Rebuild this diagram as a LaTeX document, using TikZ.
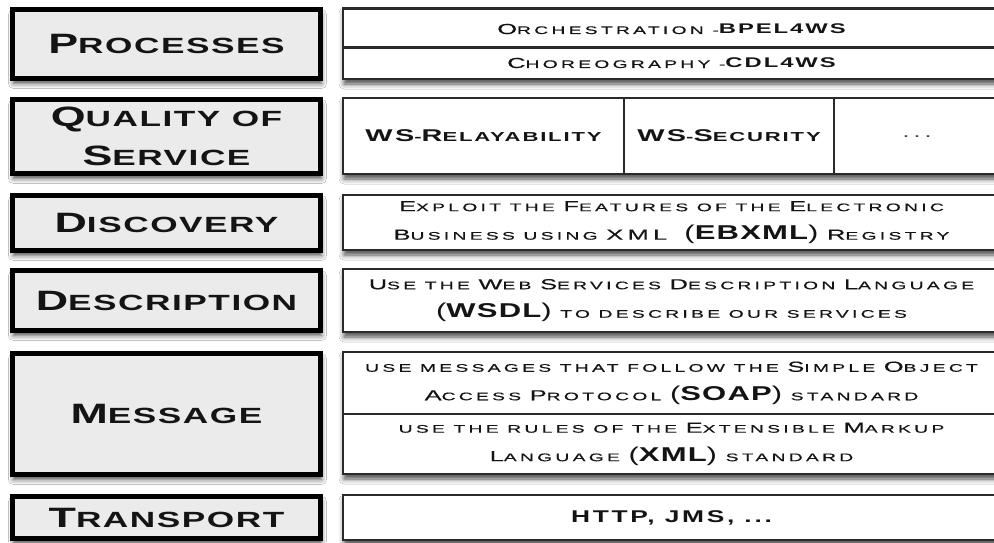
\documentclass[tikz,border=0pt]{standalone}
\usepackage{fontspec}
\usetikzlibrary{shadows.blur}

% Faces: wide, tracked caps in the style of an engraved gothic
\newfontfamily\lblfont[FakeStretch=1.6,LetterSpace=7]{Liberation Sans}
\newfontfamily\cpl[FakeStretch=1.75,LetterSpace=30,FakeBold=0.4]{Liberation Sans}
\newfontfamily\cpb[FakeStretch=1.7,LetterSpace=14]{Liberation Sans}
\newfontfamily\hvb[FakeStretch=1.55,LetterSpace=6]{Liberation Sans}
\newfontfamily\hvw[FakeStretch=1.55,LetterSpace=16]{Liberation Sans}

% Large capitals inside small-cap lines
\newcommand\lcap[1]{{\fontsize{28}{28}\selectfont #1}}
\newcommand\rcap[1]{{\fontsize{14.5}{14.5}\selectfont #1}}
\newcommand\bcap[1]{{\fontsize{17}{17}\selectfont #1}}
\newcommand\acro[1]{{\hvb\bfseries\fontsize{20}{20}\selectfont #1}}
\newcommand\paren[1]{{\hvb\fontsize{20}{20}\selectfont #1}}
\newcommand\ctag[1]{{\cpb\bfseries\fontsize{14}{14}\selectfont #1}}

\definecolor{boxgray}{HTML}{EBEBEB}
\definecolor{edge}{HTML}{2A2A2A}
\definecolor{ink}{HTML}{141414}

\tikzset{
  softshadow/.style={blur shadow={shadow xshift=1pt, shadow yshift=-5pt,
      shadow blur radius=5pt, shadow opacity=70}},
  layer/.style={draw=black, line width=5pt, fill=boxgray, softshadow,
      text=ink, align=center, inner sep=0pt, minimum width=308pt,
      font=\lblfont\bfseries\fontsize{22}{39}\selectfont},
  frame/.style={draw=edge, line width=1.3pt, fill=white, softshadow,
      text=ink, align=center, inner sep=0pt, minimum width=657pt,
      font=\cpl\fontsize{11}{28.5}\selectfont},
  cell/.style={draw=edge, line width=1.3pt, text=ink, align=center,
      inner sep=0pt, font=\cpl\fontsize{11}{28.5}\selectfont},
  boldcell/.style={cell, font=\cpb\bfseries\fontsize{13}{13}\selectfont},
}

\begin{document}
\begin{tikzpicture}[x=1pt,y=-1pt]
\useasboundingbox (0,0) rectangle (994,542);
\fill[white] (0,0) rectangle (994,542);

% Layer names
\node[layer, minimum height=69pt]  (proc)  at (166.5,44)    {\lcap{P}ROCESSES};
\node[layer, minimum height=74pt]  (qos)   at (166.5,136.5) {\lcap{Q}UALITY OF\\\lcap{S}ERVICE};
\node[layer, minimum height=55pt]  (disc)  at (166.5,223)   {\lcap{D}ISCOVERY};
\node[layer, minimum height=60pt]  (desc)  at (166.5,300.5) {\lcap{D}ESCRIPTION};
\node[layer, minimum height=121pt] (msg)   at (166.5,414)   {\lcap{M}ESSAGE};
\node[layer, minimum height=42pt]  (trans) at (166.5,517.5) {\lcap{T}RANSPORT};

% Processes
\node[frame, minimum height=71pt] (procR) at (671.5,43.5) {};
\node[cell, minimum width=657pt, minimum height=39pt] (orch) at (671.5,29)
  {\rcap{O}RCHESTRATION -\ctag{BPEL4WS}};
\node[cell, minimum width=657pt, minimum height=32pt] (chor) at (671.5,63)
  {\rcap{C}HOREOGRAPHY -\ctag{CDL4WS}};

% Quality of service
\node[frame, minimum height=76pt] (qosR) at (671.5,136) {};
\node[boldcell, minimum width=281pt, minimum height=76pt]
  (rel) at (483.5,136) {\bcap{WS}-\bcap{R}ELAYABILITY};
\node[boldcell, minimum width=210pt, minimum height=76pt]
  (sec) at (729,136) {\bcap{WS}-\bcap{S}ECURITY};
\node[cell, minimum width=166pt, minimum height=76pt,
      font=\cpl\fontsize{14}{14}\selectfont, text=ink!80] (more) at (917,136) {...};

% Discovery
\node[frame, minimum height=55pt] (discR) at (671.5,222.5)
  {\rcap{E}XPLOIT THE \rcap{F}EATURES OF THE \rcap{E}LECTRONIC\\
   \rcap{B}USINESS USING \rcap{XML}\ \ \paren{(}\acro{EBXML}\paren{)} \rcap{R}EGISTRY};

% Description
\node[frame, minimum height=63pt] (descR) at (671.5,300.5)
  {\rcap{U}SE THE \rcap{W}EB \rcap{S}ERVICES \rcap{D}ESCRIPTION \rcap{L}ANGUAGE\\
   \paren{(}\acro{WSDL}\paren{)} TO DESCRIBE OUR SERVICES};

% Message
\node[frame, minimum height=122pt] (msgR) at (671.5,413) {};
\node[cell, minimum width=657pt, minimum height=62pt] (soap) at (671.5,383)
  {USE MESSAGES THAT FOLLOW THE \rcap{S}IMPLE \rcap{O}BJECT\\
   \rcap{A}CCESS \rcap{P}ROTOCOL \paren{(}\acro{SOAP}\paren{)} STANDARD};
\node[cell, minimum width=657pt, minimum height=60pt] (xml) at (671.5,444)
  {USE THE RULES OF THE \rcap{E}XTENSIBLE \rcap{M}ARKUP\\
   \rcap{L}ANGUAGE \paren{(}\acro{XML}\paren{)} STANDARD};

% Transport
\node[frame, minimum height=45pt, font=\hvw\bfseries\fontsize{17}{17}\selectfont]
  (transR) at (671.5,517.5) {HTTP, JMS, ...};
\end{tikzpicture}
\end{document}
